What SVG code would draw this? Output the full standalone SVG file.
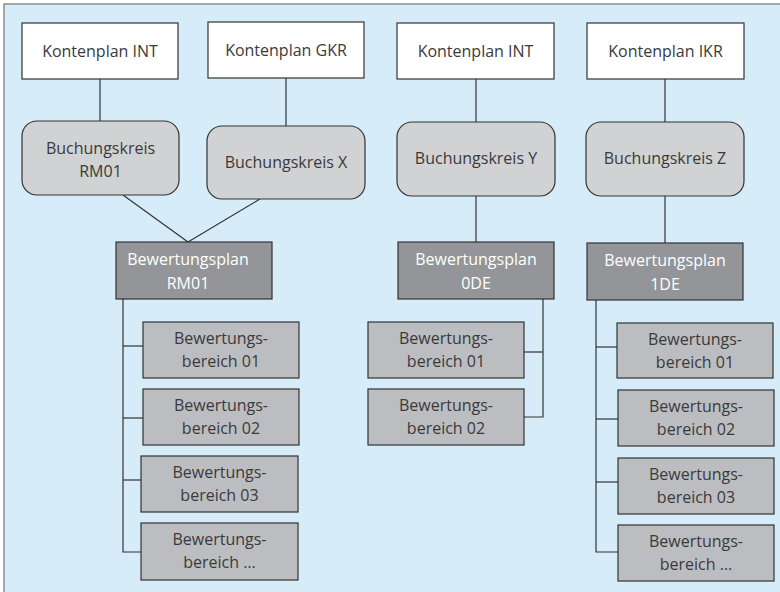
<svg xmlns="http://www.w3.org/2000/svg" width="780" height="592" viewBox="0 0 780 592">
<style>
.bg{fill:#d6ecf9;stroke:#8a8a8a;stroke-width:1.5}
.kp{fill:#ffffff;stroke:#333;stroke-width:1.2}
.bk{fill:#d1d2d4;stroke:#333;stroke-width:1.2}
.bp{fill:#939598;stroke:#333;stroke-width:1.2}
.bb{fill:#bcbdc0;stroke:#333;stroke-width:1.2}
text{font-family:"Open Sans","Noto Sans","Liberation Sans",sans-serif;font-size:16px;text-anchor:middle;fill:#3a3a3a}
.w{fill:#ffffff}
.c line,.c polyline{stroke:#333;stroke-width:1.2;fill:none}
</style>
<rect class="bg" x="4" y="4" width="790" height="600"/>
<g class="c" id="connectors">
<line x1="100" y1="79" x2="100" y2="121"/>
<line x1="286" y1="78" x2="286" y2="126"/>
<line x1="476" y1="79" x2="476" y2="122"/>
<line x1="665" y1="79" x2="665" y2="122"/>
<line x1="123" y1="195" x2="188" y2="242"/>
<line x1="260" y1="199" x2="188" y2="242"/>
<line x1="476" y1="196" x2="476" y2="242"/>
<line x1="665" y1="196" x2="665" y2="243"/>
<polyline points="123,299 123,552 141,552"/>
<line x1="123" y1="346" x2="143" y2="346"/>
<line x1="123" y1="418" x2="143" y2="418"/>
<line x1="123" y1="480" x2="141" y2="480"/>
<polyline points="543,299 543,417 524,417"/>
<line x1="543" y1="352" x2="524" y2="352"/>
<polyline points="596,300 596,552 618,552"/>
<line x1="596" y1="347" x2="617" y2="347"/>
<line x1="596" y1="419" x2="618" y2="419"/>
<line x1="596" y1="482" x2="618" y2="482"/>
</g>
<g id="kp1"><rect class="kp" x="22" y="23" width="156" height="56"/><text x="100" y="57">Kontenplan INT</text></g>
<g id="kp2"><rect class="kp" x="208" y="22" width="156" height="56"/><text x="286" y="56">Kontenplan GKR</text></g>
<g id="kp3"><rect class="kp" x="397" y="23" width="157" height="56"/><text x="475.5" y="57">Kontenplan INT</text></g>
<g id="kp4"><rect class="kp" x="587" y="23" width="157" height="56"/><text x="665.5" y="57">Kontenplan IKR</text></g>
<g id="bkRM01"><rect class="bk" x="22" y="121" width="157" height="74" rx="15"/><text x="100.5" y="154">Buchungskreis</text><text x="100.5" y="177">RM01</text></g>
<g id="bkX"><rect class="bk" x="207" y="126" width="158" height="73" rx="15"/><text x="286" y="168">Buchungskreis X</text></g>
<g id="bkY"><rect class="bk" x="397" y="122" width="158" height="74" rx="15"/><text x="476" y="164">Buchungskreis Y</text></g>
<g id="bkZ"><rect class="bk" x="586" y="122" width="158" height="74" rx="15"/><text x="665" y="164">Buchungskreis Z</text></g>
<g id="bpRM01"><rect class="bp" x="116" y="242" width="156" height="57"/><text class="w" x="188" y="265">Bewertungsplan</text><text class="w" x="188" y="289">RM01</text></g>
<g id="bp0DE"><rect class="bp" x="398" y="242" width="156" height="57"/><text class="w" x="476" y="265">Bewertungsplan</text><text class="w" x="476" y="289">0DE</text></g>
<g id="bp1DE"><rect class="bp" x="587" y="243" width="156" height="57"/><text class="w" x="665" y="266">Bewertungsplan</text><text class="w" x="665" y="290">1DE</text></g>
<g id="a01"><rect class="bb" x="143" y="322" width="156" height="56"/><text x="221" y="344">Bewertungs-</text><text x="221" y="367">bereich  01</text></g>
<g id="a02"><rect class="bb" x="143" y="389" width="156" height="56"/><text x="221" y="411">Bewertungs-</text><text x="221" y="434">bereich  02</text></g>
<g id="a03"><rect class="bb" x="141" y="456" width="157" height="56"/><text x="219.5" y="478">Bewertungs-</text><text x="219.5" y="501">bereich  03</text></g>
<g id="a04"><rect class="bb" x="141" y="523" width="157" height="57"/><text x="219.5" y="545">Bewertungs-</text><text x="219.5" y="568">bereich …</text></g>
<g id="b01"><rect class="bb" x="368" y="322" width="156" height="56"/><text x="446" y="344">Bewertungs-</text><text x="446" y="367">bereich  01</text></g>
<g id="b02"><rect class="bb" x="368" y="389" width="156" height="56"/><text x="446" y="411">Bewertungs-</text><text x="446" y="434">bereich  02</text></g>
<g id="c01"><rect class="bb" x="617" y="323" width="156" height="55"/><text x="695" y="345">Bewertungs-</text><text x="695" y="368">bereich  01</text></g>
<g id="c02"><rect class="bb" x="618" y="390" width="156" height="56"/><text x="696" y="412">Bewertungs-</text><text x="696" y="435">bereich  02</text></g>
<g id="c03"><rect class="bb" x="618" y="458" width="156" height="56"/><text x="696" y="480">Bewertungs-</text><text x="696" y="503">bereich  03</text></g>
<g id="c04"><rect class="bb" x="618" y="525" width="156" height="56"/><text x="696" y="547">Bewertungs-</text><text x="696" y="570">bereich …</text></g>
</svg>
